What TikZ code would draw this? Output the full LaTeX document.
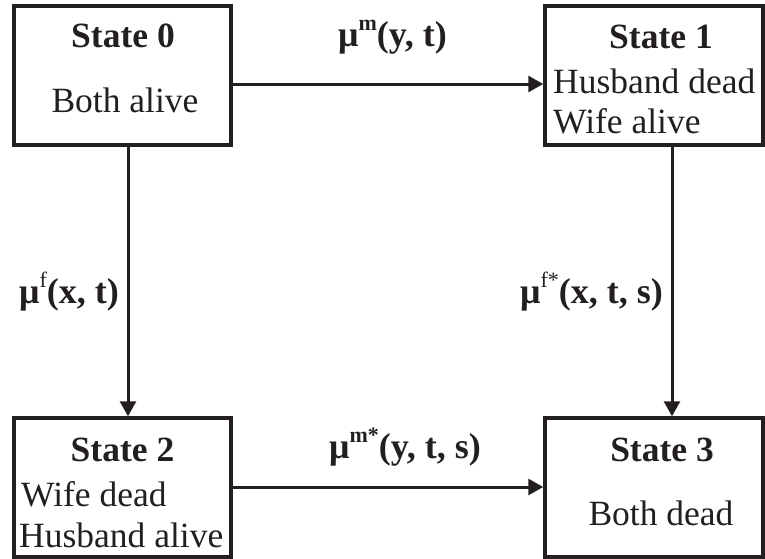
\documentclass[tikz,border=0pt]{standalone}
\usepackage{fontspec}
\setmainfont{Liberation Serif}
\usetikzlibrary{arrows.meta}
\definecolor{ink}{RGB}{35,31,32}
\newcommand{\mysup}[1]{\raisebox{16pt}{\fontsize{22}{22}\selectfont #1}}
\begin{document}
\begin{tikzpicture}[x=1pt,y=-1pt,
  box/.style={draw=ink, line width=3.5pt, inner sep=0pt, minimum height=139pt},
  txt/.style={font=\fontsize{35.5}{40}\selectfont, text=ink, inner sep=0pt, anchor=base},
  btxt/.style={font=\fontsize{35.5}{40}\selectfont\bfseries, text=ink, inner sep=0pt, anchor=base},
  ltxt/.style={font=\fontsize{35.5}{40}\selectfont, text=ink, inner sep=0pt, anchor=base west},
  lab/.style={font=\fontsize{36}{40}\selectfont\bfseries, text=ink, inner sep=0pt, anchor=base west},
  arr/.style={draw=ink, line width=3pt, -{Triangle[length=15pt,width=16pt]}}]
\useasboundingbox (0,0) rectangle (765,558);
% boxes
\node[box, minimum width=217pt] (s0) at (122.5,75.5) {};
\node[box, minimum width=218pt] (s1) at (654,75.5) {};
\node[box, minimum width=217pt] (s2) at (122.5,487.5) {};
\node[box, minimum width=218pt] (s3) at (654,487.5) {};
% box texts
\node[btxt] (t0a) at (123,47) {State 0};
\node[txt] (t0b) at (125,112) {Both alive};
\node[btxt] (t1a) at (661,48) {State 1};
\node[ltxt] (t1b) at (553,93) {Husband dead};
\node[ltxt] (t1c) at (553,133) {Wife alive};
\node[btxt] (t2a) at (122.5,461) {State 2};
\node[ltxt] (t2b) at (21,506) {Wife dead};
\node[ltxt] (t2c) at (19,547) {Husband alive};
\node[btxt] (t3a) at (662,461) {State 3};
\node[txt] (t3b) at (661,525) {Both dead};
% connectors
\coordinate (ha) at (0,84);
\coordinate (hb) at (0,487);
\coordinate (va) at (128,0);
\coordinate (vb) at (672,0);
\draw[arr] (s0.east |- ha) -- (s1.west |- ha);
\draw[arr] (s2.east |- hb) -- (s3.west |- hb);
\draw[arr] (va |- s0.south) -- (va |- s2.north);
\draw[arr] (vb |- s1.south) -- (vb |- s3.north);
% labels
\node[lab] (lm) at (338,46) {μ\mysup{m}(y, t)};
\node[lab] (lf) at (19,303) {μ\mysup{\mdseries f}(x, t)};
\node[lab] (lfs) at (520,303) {μ\mysup{\mdseries f*}(x, t, s)};
\node[lab] (lms) at (329,458) {μ\mysup{m*}(y, t, s)};
\end{tikzpicture}
\end{document}
